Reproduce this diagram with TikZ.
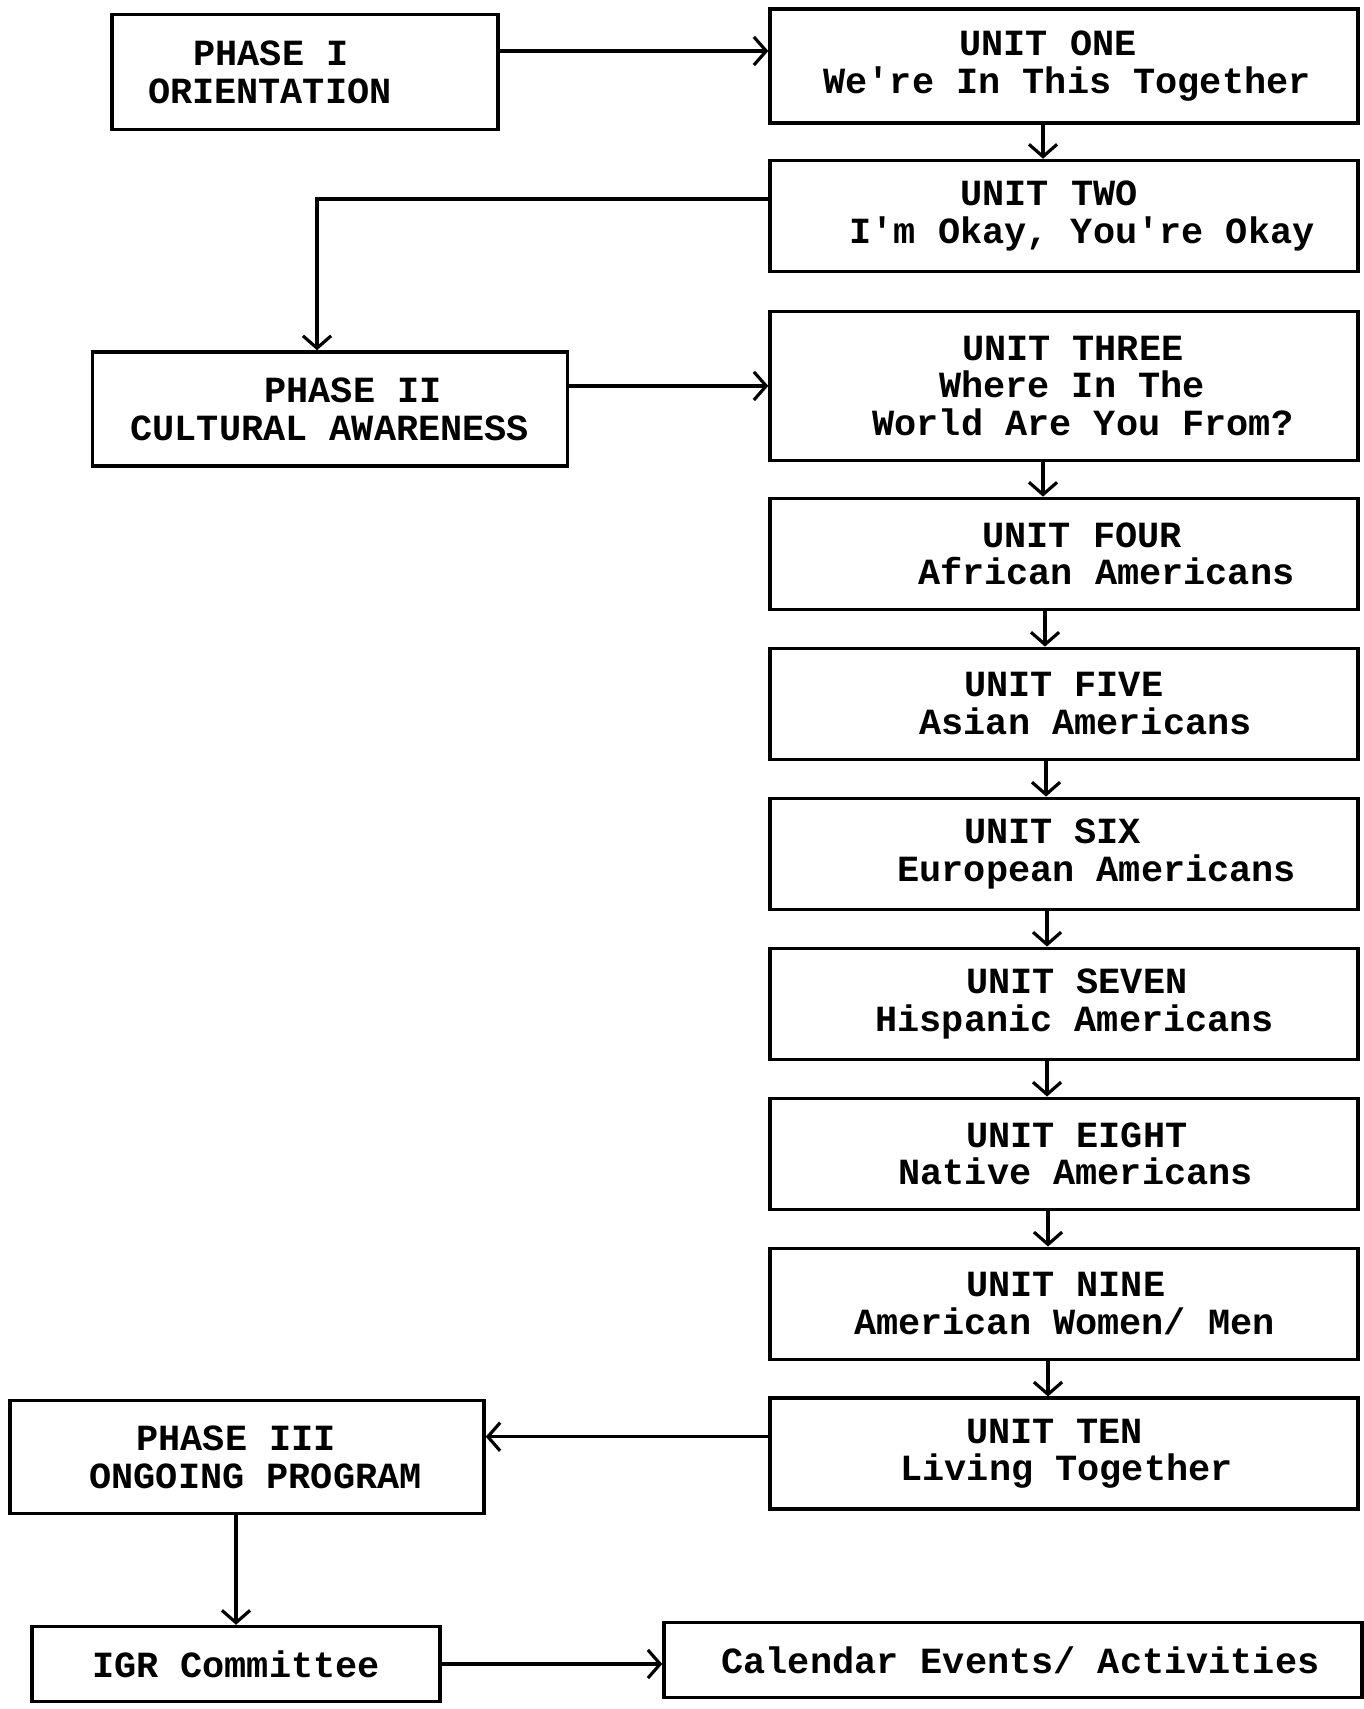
\documentclass[tikz,border=0pt]{standalone}
\usepackage{fontspec}
\setmonofont{Liberation Mono}
\usetikzlibrary{shapes,arrows.meta,positioning}

\begin{document}
\begin{tikzpicture}[x=0.02cm, y=0.02cm, node distance=3cm, auto]

% Define styles
\tikzstyle{box} = [rectangle, draw, line width=2pt, align=flush left, inner xsep=0pt, text width=11.76cm, minimum height=2.22cm, font=\ttfamily\bfseries\fontsize{21}{21.5}\selectfont]
\tikzstyle{phase} = [box, text width=9.5cm, minimum height=2.28cm]
\tikzstyle{arrow} = [line width=1.8pt, -{Straight Barb[length=7pt,width=16pt]}]

\useasboundingbox (0,0) rectangle (1363,-1709);

% Nodes
\node [box, minimum height=2.28cm] (unit1) at (1064,-66) {\hspace*{3.79cm}UNIT ONE\\\hspace*{1.07cm}We're In This Together};
\node [box, below of=unit1] (unit2) {\hspace*{3.81cm}UNIT TWO\\\hspace*{1.59cm}I'm Okay, You're Okay};
\node [box, below of=unit2, node distance=3.4cm, minimum height=2.98cm] (unit3) {\hspace*{3.84cm}UNIT THREE\\\hspace*{3.38cm}Where In The\\\hspace*{2.05cm}World Are You From?};
\node [box, below of=unit3, node distance=3.36cm] (unit4) {\hspace*{4.25cm}UNIT FOUR\\\hspace*{2.96cm}African Americans};
\node [box, below of=unit4] (unit5) {\hspace*{3.88cm}UNIT FIVE\\\hspace*{2.99cm}Asian Americans};
\node [box, below of=unit5] (unit6) {\hspace*{3.88cm}UNIT SIX\\\hspace*{2.55cm}European Americans};
\node [box, below of=unit6] (unit7) {\hspace*{3.92cm}UNIT SEVEN\\\hspace*{2.11cm}Hispanic Americans};
\node [box, below of=unit7] (unit8) {\hspace*{3.92cm}UNIT EIGHT\\\hspace*{2.57cm}Native Americans};
\node [box, below of=unit8] (unit9) {\hspace*{3.92cm}UNIT NINE\\\hspace*{1.68cm}American Women/ Men};
\node [box, below of=unit9] (unit10) {\hspace*{3.92cm}UNIT TEN\\\hspace*{2.61cm}Living Together};

% Phase boxes
\node [phase, text width=7.72cm, minimum height=2.3cm] (phase1) at (305,-72) {\hspace*{1.63cm}PHASE I\\\hspace*{0.72cm}ORIENTATION};
\node [phase] (phase2) at (330,-409) {\hspace*{3.44cm}PHASE II\\\hspace*{0.76cm}CULTURAL AWARENESS};
\node [phase, text width=9.48cm, minimum height=2.26cm] (phase3) at (247,-1457) {\hspace*{2.53cm}PHASE III\\\hspace*{1.59cm}ONGOING PROGRAM};
\node [box, text width=8.16cm, minimum height=1.5cm] (igr) at (236,-1664) {\hspace*{1.2cm}IGR Committee};
\node [box, text width=13.96cm, minimum height=1.5cm] (calendar) at (1013,-1660) {\hspace*{1.15cm}Calendar Events/ Activities};

% Arrows
\draw [arrow] ([yshift=0.42cm]phase1.east) -- ([yshift=0.42cm]phase1.east -| unit1.west);
\draw [arrow] ([xshift=-0.42cm]unit1.south) -- ([xshift=-0.42cm]unit2.north);
\draw [arrow] ([yshift=0.34cm]unit2.west) -| ([xshift=-0.26cm]phase2.north);
\draw [arrow] (phase2.east |- unit3.west) -- (unit3.west);
\draw [arrow] ([xshift=-0.42cm]unit3.south) -- ([xshift=-0.42cm]unit4.north);
\draw [arrow] ([xshift=-0.38cm]unit4.south) -- ([xshift=-0.38cm]unit5.north);
\draw [arrow] ([xshift=-0.36cm]unit5.south) -- ([xshift=-0.36cm]unit6.north);
\draw [arrow] ([xshift=-0.34cm]unit6.south) -- ([xshift=-0.34cm]unit7.north);
\draw [arrow] ([xshift=-0.34cm]unit7.south) -- ([xshift=-0.34cm]unit8.north);
\draw [arrow] ([xshift=-0.32cm]unit8.south) -- ([xshift=-0.32cm]unit9.north);
\draw [arrow] ([xshift=-0.32cm]unit9.south) -- ([xshift=-0.32cm]unit10.north);
\draw [arrow] ([yshift=0.34cm]unit10.west) -- ([yshift=0.34cm]unit10.west -| phase3.east);
\draw [arrow] (phase3.south -| igr.north) -- (igr.north);
\draw [arrow] (igr.east) -- (igr.east -| calendar.west);

\end{tikzpicture}
\end{document}
